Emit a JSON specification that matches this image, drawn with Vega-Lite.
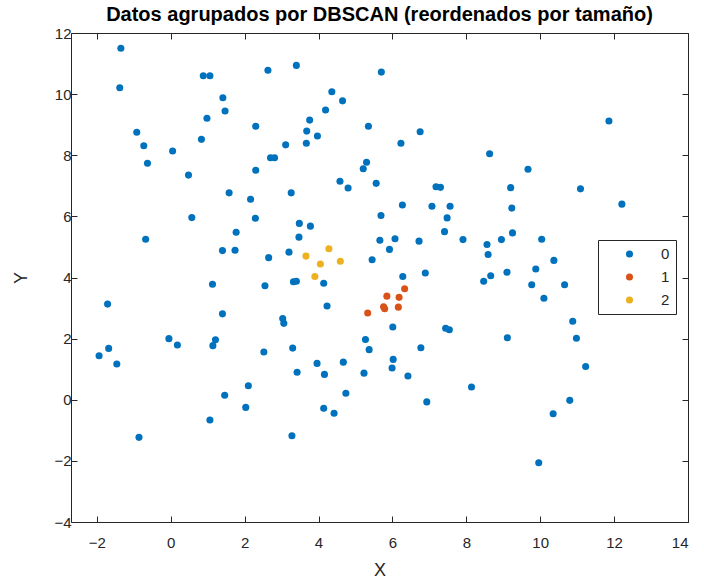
{
  "$schema": "https://vega.github.io/schema/vega-lite/v6.json",
  "width": 617,
  "height": 489,
  "autosize": "none",
  "padding": {"left": 71, "top": 33, "right": 16, "bottom": 62},
  "background": "white",
  "title": {"text": "Datos agrupados por DBSCAN (reordenados por tamaño)", "font": "Liberation Sans", "fontSize": 20, "fontWeight": "bold", "color": "black", "offset": 1, "anchor": "middle"},
  "config": {
    "view": {"stroke": null},
    "axis": {"grid": false, "domainColor": "#262626", "tickColor": "#262626", "labelColor": "#262626", "titleColor": "#262626", "labelFont": "Liberation Sans", "titleFont": "Liberation Sans", "labelFontSize": 15, "titleFontSize": 18, "titleFontWeight": "normal", "tickSize": -6, "domainWidth": 1, "tickWidth": 1}
  },
  "data": {"values": [
    {"x": -1.35, "y": 11.5, "c": "0"}, {"x": -1.38, "y": 10.21, "c": "0"}, {"x": 0.88, "y": 10.6, "c": "0"}, {"x": 1.06, "y": 10.6, "c": "0"},
    {"x": 2.63, "y": 10.78, "c": "0"}, {"x": 1.41, "y": 9.88, "c": "0"}, {"x": 1.47, "y": 9.45, "c": "0"}, {"x": 0.98, "y": 9.21, "c": "0"},
    {"x": -0.92, "y": 8.75, "c": "0"}, {"x": 0.83, "y": 8.52, "c": "0"}, {"x": -0.73, "y": 8.31, "c": "0"}, {"x": 0.05, "y": 8.14, "c": "0"},
    {"x": -0.63, "y": 7.74, "c": "0"}, {"x": 2.3, "y": 8.95, "c": "0"}, {"x": 2.7, "y": 7.92, "c": "0"}, {"x": 2.81, "y": 7.92, "c": "0"},
    {"x": 2.3, "y": 7.51, "c": "0"}, {"x": 0.48, "y": 7.35, "c": "0"}, {"x": 1.58, "y": 6.77, "c": "0"}, {"x": 2.16, "y": 6.56, "c": "0"},
    {"x": 3.4, "y": 10.94, "c": "0"}, {"x": 5.7, "y": 10.72, "c": "0"}, {"x": 4.36, "y": 10.08, "c": "0"}, {"x": 4.65, "y": 9.78, "c": "0"},
    {"x": 4.19, "y": 9.48, "c": "0"}, {"x": 3.76, "y": 9.15, "c": "0"}, {"x": 3.68, "y": 8.79, "c": "0"}, {"x": 3.97, "y": 8.63, "c": "0"},
    {"x": 3.67, "y": 8.39, "c": "0"}, {"x": 5.35, "y": 8.95, "c": "0"}, {"x": 6.75, "y": 8.77, "c": "0"}, {"x": 6.23, "y": 8.39, "c": "0"},
    {"x": 3.11, "y": 8.34, "c": "0"}, {"x": 5.3, "y": 7.77, "c": "0"}, {"x": 5.21, "y": 7.56, "c": "0"}, {"x": 4.58, "y": 7.15, "c": "0"},
    {"x": 4.8, "y": 6.93, "c": "0"}, {"x": 5.56, "y": 7.08, "c": "0"}, {"x": 7.18, "y": 6.97, "c": "0"}, {"x": 7.3, "y": 6.95, "c": "0"},
    {"x": 3.26, "y": 6.77, "c": "0"}, {"x": 11.86, "y": 9.12, "c": "0"}, {"x": 8.63, "y": 8.05, "c": "0"}, {"x": 9.67, "y": 7.54, "c": "0"},
    {"x": 9.2, "y": 6.94, "c": "0"}, {"x": 11.09, "y": 6.9, "c": "0"}, {"x": 12.21, "y": 6.4, "c": "0"},
    {"x": 0.57, "y": 5.96, "c": "0"}, {"x": 2.29, "y": 5.94, "c": "0"}, {"x": -0.68, "y": 5.25, "c": "0"}, {"x": 1.77, "y": 5.48, "c": "0"},
    {"x": 1.4, "y": 4.88, "c": "0"}, {"x": 1.74, "y": 4.89, "c": "0"}, {"x": 2.65, "y": 4.65, "c": "0"}, {"x": 1.13, "y": 3.78, "c": "0"},
    {"x": 2.55, "y": 3.73, "c": "0"}, {"x": -1.71, "y": 3.13, "c": "0"}, {"x": 1.4, "y": 2.81, "c": "0"}, {"x": -0.05, "y": 2.0, "c": "0"},
    {"x": 0.18, "y": 1.79, "c": "0"}, {"x": 1.21, "y": 1.96, "c": "0"}, {"x": 1.14, "y": 1.77, "c": "0"}, {"x": -1.68, "y": 1.68, "c": "0"},
    {"x": 2.52, "y": 1.56, "c": "0"},
    {"x": 6.27, "y": 6.37, "c": "0"}, {"x": 7.07, "y": 6.33, "c": "0"}, {"x": 7.56, "y": 6.33, "c": "0"}, {"x": 5.69, "y": 6.03, "c": "0"},
    {"x": 7.48, "y": 5.95, "c": "0"}, {"x": 3.48, "y": 5.77, "c": "0"}, {"x": 3.78, "y": 5.68, "c": "0"}, {"x": 7.41, "y": 5.5, "c": "0"},
    {"x": 3.47, "y": 5.32, "c": "0"}, {"x": 5.66, "y": 5.22, "c": "0"}, {"x": 6.07, "y": 5.27, "c": "0"}, {"x": 6.72, "y": 5.19, "c": "0"},
    {"x": 7.91, "y": 5.24, "c": "0"}, {"x": 5.92, "y": 4.92, "c": "0"}, {"x": 3.2, "y": 4.83, "c": "0"}, {"x": 5.45, "y": 4.58, "c": "0"},
    {"x": 6.89, "y": 4.15, "c": "0"}, {"x": 6.28, "y": 4.03, "c": "0"}, {"x": 3.32, "y": 3.86, "c": "0"}, {"x": 3.4, "y": 3.88, "c": "0"},
    {"x": 4.14, "y": 3.81, "c": "0"}, {"x": 4.23, "y": 3.07, "c": "0"}, {"x": 3.03, "y": 2.66, "c": "0"}, {"x": 3.06, "y": 2.5, "c": "0"},
    {"x": 6.01, "y": 2.38, "c": "0"}, {"x": 7.44, "y": 2.34, "c": "0"}, {"x": 7.54, "y": 2.29, "c": "0"}, {"x": 5.27, "y": 1.97, "c": "0"},
    {"x": 3.3, "y": 1.69, "c": "0"}, {"x": 5.37, "y": 1.64, "c": "0"}, {"x": 6.77, "y": 1.7, "c": "0"},
    {"x": 9.23, "y": 6.27, "c": "0"}, {"x": 9.25, "y": 5.46, "c": "0"}, {"x": 8.95, "y": 5.24, "c": "0"}, {"x": 10.04, "y": 5.25, "c": "0"},
    {"x": 8.56, "y": 5.08, "c": "0"}, {"x": 8.59, "y": 4.75, "c": "0"}, {"x": 10.37, "y": 4.56, "c": "0"}, {"x": 9.88, "y": 4.28, "c": "0"},
    {"x": 8.66, "y": 4.06, "c": "0"}, {"x": 8.47, "y": 3.88, "c": "0"}, {"x": 9.1, "y": 4.17, "c": "0"}, {"x": 9.77, "y": 3.76, "c": "0"},
    {"x": 10.66, "y": 3.76, "c": "0"}, {"x": 10.1, "y": 3.32, "c": "0"}, {"x": 10.88, "y": 2.57, "c": "0"}, {"x": 9.11, "y": 2.03, "c": "0"},
    {"x": 10.98, "y": 2.01, "c": "0"},
    {"x": -1.94, "y": 1.44, "c": "0"}, {"x": -1.46, "y": 1.17, "c": "0"}, {"x": 2.1, "y": 0.46, "c": "0"}, {"x": 1.46, "y": 0.15, "c": "0"},
    {"x": 2.03, "y": -0.25, "c": "0"}, {"x": 1.06, "y": -0.66, "c": "0"}, {"x": -0.86, "y": -1.23, "c": "0"},
    {"x": 3.96, "y": 1.19, "c": "0"}, {"x": 3.42, "y": 0.9, "c": "0"}, {"x": 4.16, "y": 0.83, "c": "0"}, {"x": 4.67, "y": 1.23, "c": "0"},
    {"x": 5.23, "y": 0.87, "c": "0"}, {"x": 6.02, "y": 1.32, "c": "0"}, {"x": 5.99, "y": 1.04, "c": "0"}, {"x": 6.42, "y": 0.78, "c": "0"},
    {"x": 8.14, "y": 0.42, "c": "0"}, {"x": 4.74, "y": 0.21, "c": "0"}, {"x": 6.93, "y": -0.07, "c": "0"}, {"x": 4.14, "y": -0.28, "c": "0"},
    {"x": 4.42, "y": -0.44, "c": "0"}, {"x": 3.28, "y": -1.18, "c": "0"},
    {"x": 11.23, "y": 1.09, "c": "0"}, {"x": 10.8, "y": -0.02, "c": "0"}, {"x": 10.35, "y": -0.46, "c": "0"}, {"x": 9.96, "y": -2.06, "c": "0"},
    {"x": 6.33, "y": 3.63, "c": "1"}, {"x": 5.85, "y": 3.39, "c": "1"}, {"x": 6.18, "y": 3.35, "c": "1"}, {"x": 5.33, "y": 2.84, "c": "1"},
    {"x": 5.76, "y": 3.04, "c": "1"}, {"x": 5.79, "y": 2.98, "c": "1"}, {"x": 6.16, "y": 3.03, "c": "1"},
    {"x": 4.28, "y": 4.94, "c": "2"}, {"x": 3.66, "y": 4.7, "c": "2"}, {"x": 4.05, "y": 4.44, "c": "2"}, {"x": 4.59, "y": 4.53, "c": "2"},
    {"x": 3.9, "y": 4.03, "c": "2"}
  ]},
  "layer": [
    {
      "mark": {"type": "point", "filled": true, "opacity": 1, "size": 50, "shape": "circle"},
      "encoding": {
        "x": {"field": "x", "type": "quantitative", "scale": {"domain": [-2.7, 14], "nice": false, "zero": false}, "axis": {"title": "X", "values": [-2, 0, 2, 4, 6, 8, 10, 12, 14], "labelPadding": 19, "titlePadding": 11}},
        "y": {"field": "y", "type": "quantitative", "scale": {"domain": [-4, 12], "nice": false, "zero": false}, "axis": {"title": "Y", "values": [-4, -2, 0, 2, 4, 6, 8, 10, 12], "labelPadding": 6, "titlePadding": 23}},
        "color": {"field": "c", "type": "nominal", "scale": {"domain": ["0", "1", "2"], "range": ["#0072BD", "#D95319", "#EDB120"]},
          "legend": {"title": null, "orient": "none", "legendX": 527, "legendY": 207, "strokeColor": "#262626", "fillColor": "white", "padding": 6, "labelFontSize": 15, "labelFont": "Liberation Sans", "labelColor": "#262626", "symbolSize": 50, "symbolOffset": 18, "labelOffset": 24, "rowPadding": 7, "clipHeight": 16, "symbolStrokeWidth": 0}},
        "order": {"field": "c", "type": "nominal"}
      }
    },
    {
      "mark": {"type": "point", "opacity": 0},
      "encoding": {
        "x": {"field": "x", "type": "quantitative", "scale": {"domain": [-2.7, 14], "nice": false, "zero": false}, "axis": {"orient": "top", "title": null, "labels": false, "values": [-2, 0, 2, 4, 6, 8, 10, 12, 14]}},
        "y": {"field": "y", "type": "quantitative", "scale": {"domain": [-4, 12], "nice": false, "zero": false}, "axis": {"orient": "right", "title": null, "labels": false, "values": [-4, -2, 0, 2, 4, 6, 8, 10, 12]}}
      }
    }
  ],
  "resolve": {"axis": {"x": "independent", "y": "independent"}}
}
